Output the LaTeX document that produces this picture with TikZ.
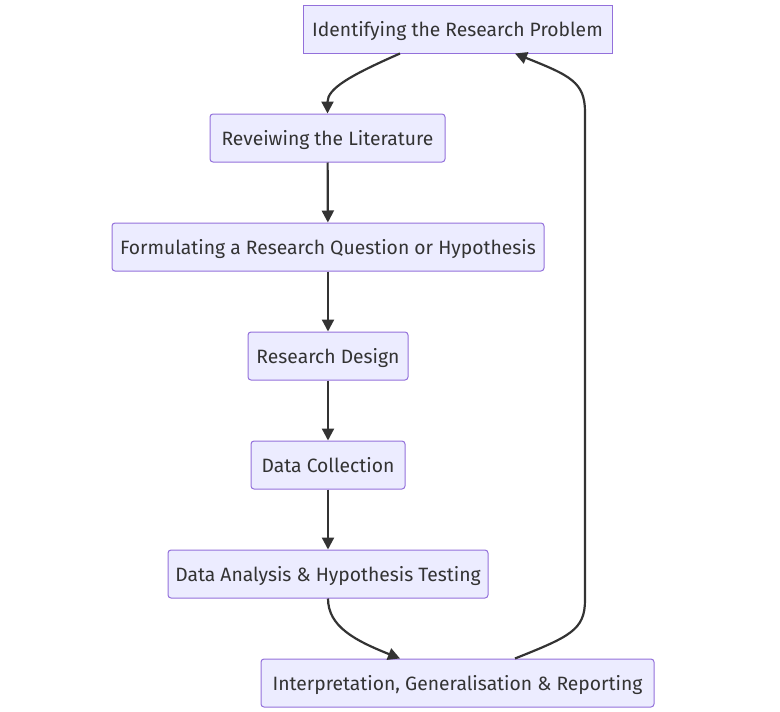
\documentclass[tikz,border=0pt]{standalone}
\usepackage{fontspec}
\setmainfont{Fira Sans}
\usetikzlibrary{arrows.meta,calc}
\definecolor{boxfill}{HTML}{ECECFF}
\definecolor{boxline}{HTML}{9370DB}
\definecolor{ink}{HTML}{333333}
\tikzset{
  stage/.style={draw=boxline, fill=boxfill, line width=1pt, rounded corners=3pt,
    minimum height=48pt, inner sep=0pt, text height=17pt, text depth=2pt,
    text=ink, font=\fontsize{19.3}{22}\selectfont},
  flow/.style={draw=ink, line width=2.2pt, -{Triangle[length=12pt,width=12pt]}}
}
\begin{document}
\begin{tikzpicture}[x=1pt,y=-1pt]
\useasboundingbox (0,0) rectangle (780,712);
\node[stage, rounded corners=0pt, minimum width=309pt] (n1) at (457.5,29) {Identifying the Research Problem};
\node[stage, minimum width=235pt] (n2) at (327.5,138) {Reveiwing the Literature};
\node[stage, minimum width=432pt] (n3) at (328,247) {Formulating a Research Question or Hypothesis};
\node[stage, minimum width=160pt] (n4) at (328,356) {Research Design};
\node[stage, minimum width=154pt] (n5) at (328,465) {Data Collection};
\node[stage, minimum width=320pt] (n6) at (328,574) {Data Analysis \& Hypothesis Testing};
\node[stage, minimum width=393pt] (n7) at (457.5,683) {Interpretation, Generalisation \& Reporting};
\draw[flow] ($(n1.south)+(-57.5,0)$) .. controls +(-50,22) and +(0,-25) .. (n2.north);
\draw[flow] (n2) -- (n3);
\draw[flow] (n3) -- (n4);
\draw[flow] (n4) -- (n5);
\draw[flow] (n5) -- (n6);
\draw[flow] (n6.south) .. controls +(0,28) and +(-45,-18) .. ($(n7.north)+(-57.5,0)$);
\draw[flow] ($(n7.north)+(57.5,0)$) .. controls +(55,-22) and +(0,30) .. (585,600) -- (585,112) .. controls +(0,-30) and +(55,22) .. ($(n1.south)+(57.5,0)$);
\end{tikzpicture}
\end{document}
